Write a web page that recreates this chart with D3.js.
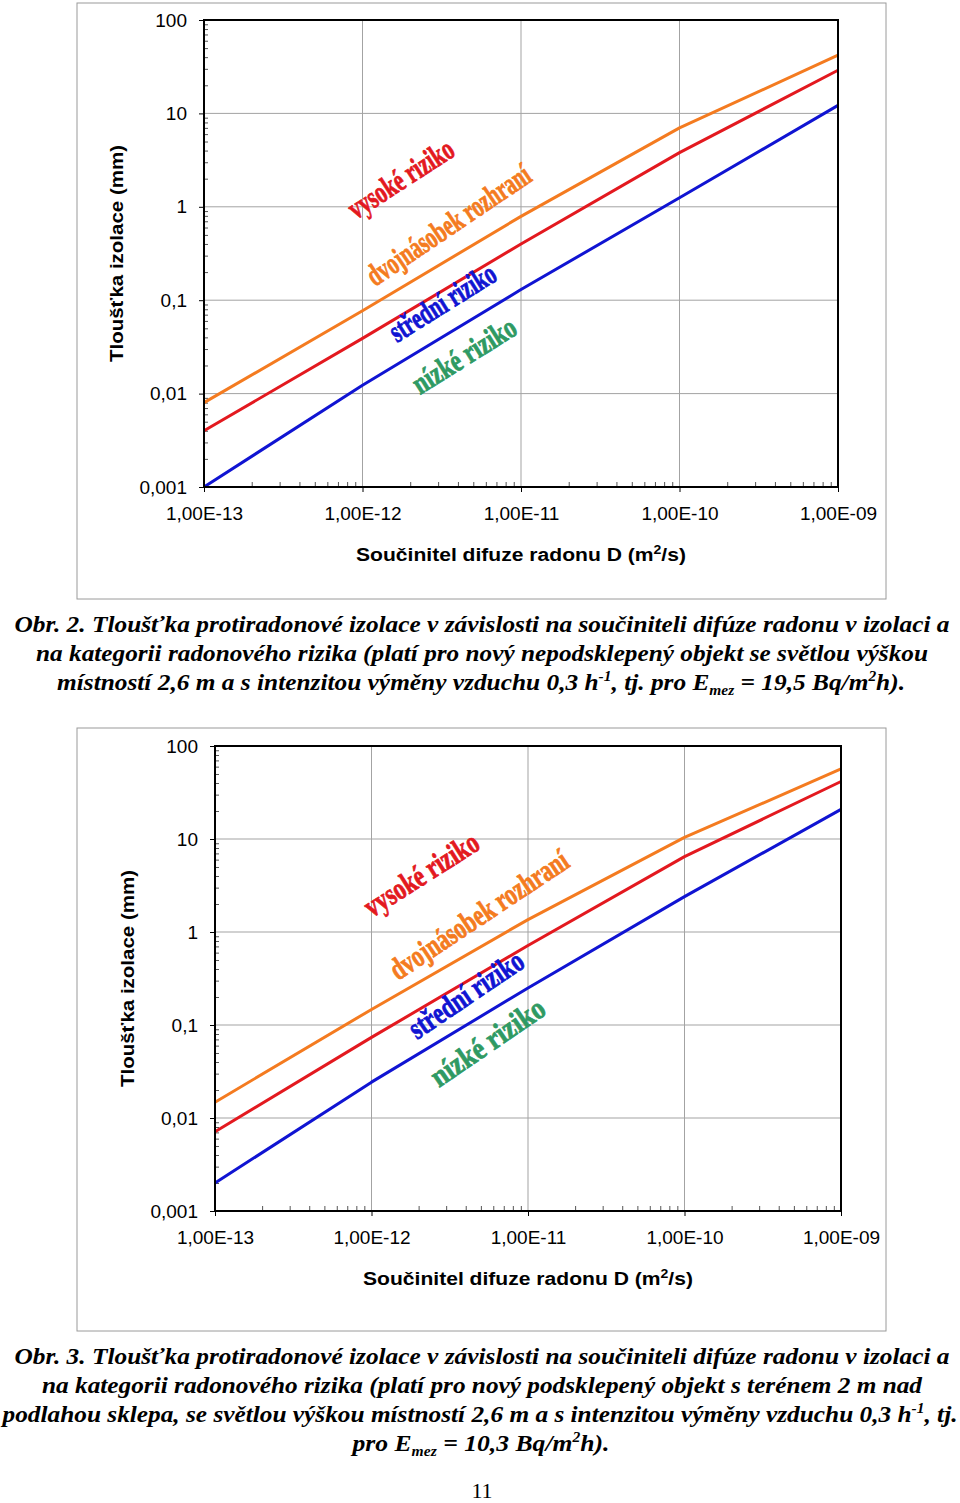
<!DOCTYPE html>
<html lang="cs">
<head>
<meta charset="UTF-8" />
<title>Tloušťka protiradonové izolace</title>
<style>
  body { margin: 0; background: #fff; }
  svg text { font-family: "Liberation Sans", Arial, sans-serif; fill: #000; }
  .caption { font-family: "Liberation Serif", "Times New Roman", serif; font-style: italic; font-weight: bold; font-size: 23px; }
  .pageno { font-family: "Liberation Serif", "Times New Roman", serif; font-size: 22px; }
  .zone { font-family: "Liberation Serif", "Times New Roman", serif; font-weight: bold; font-size: 31px; }
  .grid line { stroke: #a3a3a3; stroke-width: 1px; }
  .line { fill: none; stroke-width: 3px; stroke-linejoin: round; }
</style>
</head>
<body>
<div id="wrapper"></div>
<script src="https://cdn.jsdelivr.net/npm/d3@7"></script>
<script>
// součinitel difuze D (m2/s)
const diffusion = [1e-13, 1e-12, 1e-11, 1e-10, 1e-9];
const xTickLabels = ["1,00E-13", "1,00E-12", "1,00E-11", "1,00E-10", "1,00E-09"];
const yTicks = [0.001, 0.01, 0.1, 1, 10, 100];
const yTickLabels = ["0,001", "0,01", "0,1", "1", "10", "100"];

// tloušťka izolace (mm) - Obr. 2 (nepodsklepený objekt)
const obr2Orange = [0.008, 0.077, 0.79, 7.0, 42];
const obr2Red = [0.004, 0.039, 0.40, 3.8, 29];
const obr2Blue = [0.001, 0.0123, 0.13, 1.25, 12.2];

// tloušťka izolace (mm) - Obr. 3 (podsklepený objekt)
const obr3Orange = [0.0148, 0.147, 1.36, 10.4, 56.6];
const obr3Red = [0.0071, 0.0736, 0.715, 6.46, 41.5];
const obr3Blue = [0.002, 0.0243, 0.25, 2.4, 20.8];

const zoneLabels = ["vysoké riziko", "dvojnásobek rozhraní", "střední riziko", "nízké riziko"];

const caption2 = [
  [["Obr. 2. Tloušťka protiradonové izolace v závislosti na součiniteli difúze radonu v izolaci a"]],
  [["na kategorii radonového rizika (platí pro nový nepodsklepený objekt se světlou výškou"]],
  [["místností 2,6 m a s intenzitou výměny vzduchu 0,3 h"], ["-1", "sup"], [", tj. pro E"], ["mez", "sub"], [" = 19,5 Bq/m"], ["2", "sup"], ["h)."]]
];
const caption3 = [
  [["Obr. 3. Tloušťka protiradonové izolace v závislosti na součiniteli difúze radonu v izolaci a"]],
  [["na kategorii radonového rizika (platí pro nový podsklepený objekt s terénem 2 m nad"]],
  [["podlahou sklepa, se světlou výškou místností 2,6 m a s intenzitou výměny vzduchu 0,3 h"], ["-1", "sup"], [", tj."]],
  [["pro E"], ["mez", "sub"], [" = 10,3 Bq/m"], ["2", "sup"], ["h)."]]
];

const colors = { orange: "#f47b20", red: "#e3191f", blue: "#1014d2", green: "#2f9a63" };
const zoneColors = [colors.red, colors.orange, colors.blue, colors.green];

const svg = d3.select("#wrapper").append("svg")
    .attr("width", 960)
    .attr("height", 1503);

function drawChart(cfg) {
  // outer frame
  svg.append("rect")
      .attr("x", cfg.frame[0]).attr("y", cfg.frame[1])
      .attr("width", cfg.frame[2]).attr("height", cfg.frame[3])
      .attr("fill", "none").attr("stroke", "#9a9a9a");

  var width = cfg.right - cfg.left,
      height = cfg.bottom - cfg.top;

  var x = d3.scaleLog().domain([1e-13, 1e-9]).range([0, width]);
  var y = d3.scaleLog().domain([0.001, 100]).range([height, 0]);

  var g = svg.append("g").attr("transform", "translate(" + cfg.left + "," + cfg.top + ")");

  // grid
  g.append("g").attr("class", "grid")
    .selectAll("line").data(yTicks).join("line")
      .attr("x1", 0).attr("x2", width)
      .attr("y1", d => y(d)).attr("y2", d => y(d));
  g.append("g").attr("class", "grid")
    .selectAll("line").data(diffusion).join("line")
      .attr("y1", 0).attr("y2", height)
      .attr("x1", d => x(d)).attr("x2", d => x(d));

  // minor ticks (inside)
  var notDecade = d => Math.abs(Math.log10(d) - Math.round(Math.log10(d))) > 1e-6;
  g.append("g")
      .call(d3.axisRight(y).tickValues(y.ticks().filter(notDecade)).tickSize(4).tickFormat(""))
      .call(a => a.select(".domain").remove())
      .selectAll("line").attr("stroke", "#555");
  g.append("g")
      .attr("transform", "translate(0," + height + ")")
      .call(d3.axisTop(x).tickValues(x.ticks().filter(notDecade)).tickSize(5).tickFormat(""))
      .call(a => a.select(".domain").remove())
      .selectAll("line").attr("stroke", "#555");

  // lines
  var line = d3.line()
      .x(d => x(d[0]))
      .y(d => y(d[1]));
  cfg.series.forEach(function(s) {
    g.append("path")
        .datum(diffusion.map((d, i) => [d, s.values[i]]))
        .attr("class", "line")
        .attr("stroke", s.color)
        .attr("d", line);
  });

  // plot border
  g.append("rect")
      .attr("width", width).attr("height", height)
      .attr("fill", "none").attr("stroke", "#000").attr("stroke-width", 2);

  // Y axis
  g.append("g")
      .call(d3.axisLeft(y).tickValues(yTicks).tickSize(5).tickPadding(12)
        .tickFormat((d, i) => yTickLabels[i]))
      .call(a => a.select(".domain").remove())
      .call(a => a.selectAll("text").attr("font-size", 19).attr("font-family", null))
      .selectAll("line").attr("stroke", "#000");

  // X axis
  g.append("g")
      .attr("transform", "translate(0," + height + ")")
      .call(d3.axisBottom(x).tickValues(diffusion).tickSize(5).tickPadding(15)
        .tickFormat((d, i) => xTickLabels[i]))
      .call(a => a.select(".domain").remove())
      .call(a => a.selectAll("text").attr("font-size", 19).attr("font-family", null))
      .selectAll("line").attr("stroke", "#000");

  // axis titles
  var xt = g.append("text")
      .attr("x", width / 2).attr("y", height + 74)
      .attr("text-anchor", "middle")
      .attr("font-size", 18).attr("font-weight", "bold")
      .attr("textLength", 330).attr("lengthAdjust", "spacingAndGlyphs");
  xt.append("tspan").text("Součinitel difuze radonu D (m");
  xt.append("tspan").attr("font-size", 12).attr("dy", -7).text("2");
  xt.append("tspan").attr("dy", 7).text("/s)");

  g.append("text")
      .attr("transform", "translate(" + (-81) + "," + (height / 2) + ") rotate(-90)")
      .attr("text-anchor", "middle")
      .attr("font-size", 18).attr("font-weight", "bold")
      .attr("textLength", 217).attr("lengthAdjust", "spacingAndGlyphs")
      .text("Tloušťka izolace (mm)");

  // risk zone labels
  zoneLabels.forEach(function(t, i) {
    var p = cfg.zones[i];
    g.append("text")
        .attr("class", "zone")
        .attr("transform", "translate(" + p[0] + "," + p[1] + ") rotate(" + p[3] + ")")
        .style("fill", zoneColors[i])
        .style("stroke", zoneColors[i]).style("stroke-width", 0.8)
        .attr("textLength", p[2]).attr("lengthAdjust", "spacingAndGlyphs")
        .text(t);
  });
}

function drawCaption(lines, cfg) {
  lines.forEach(function(segs, i) {
    var t = svg.append("text")
        .attr("class", "caption")
        .attr("x", cfg.cx[i]).attr("y", cfg.y0 + i * 29)
        .attr("text-anchor", "middle")
        .attr("textLength", cfg.widths[i]).attr("lengthAdjust", "spacingAndGlyphs");
    var shift = 0;
    segs.forEach(function(s) {
      var target = s[1] === "sup" ? -9 : s[1] === "sub" ? 5 : 0;
      var sp = t.append("tspan").attr("dy", target - shift).text(s[0]);
      if (target !== 0) sp.attr("font-size", 14);
      shift = target;
    });
  });
}

drawChart({
  frame: [77, 3, 809, 596],
  left: 204, right: 838, top: 20, bottom: 487,
  series: [
    { values: obr2Orange, color: colors.orange },
    { values: obr2Red, color: colors.red },
    { values: obr2Blue, color: colors.blue }
  ],
  // [x, y, length, angle] relative to plot area
  zones: [[152, 200, 120, -33], [171, 267, 191, -34], [193, 323, 120, -32], [216, 375, 117, -32]]
});

drawCaption(caption2, { y0: 632, cx: [482, 482, 481], widths: [935, 892, 848] });

drawChart({
  frame: [77, 728, 809, 603],
  left: 215, right: 841, top: 746, bottom: 1211,
  series: [
    { values: obr3Orange, color: colors.orange },
    { values: obr3Red, color: colors.red },
    { values: obr3Blue, color: colors.blue }
  ],
  zones: [[157, 172, 130, -32.5], [183, 235, 208, -33.6], [202, 294, 132, -34], [224, 342, 132, -34.5]]
});

drawCaption(caption3, { y0: 1364, cx: [482, 482, 480, 481], widths: [935, 880, 955, 257] });

svg.append("text")
    .attr("class", "pageno")
    .attr("x", 482).attr("y", 1498)
    .attr("text-anchor", "middle")
    .text("11");
</script>
</body>
</html>
